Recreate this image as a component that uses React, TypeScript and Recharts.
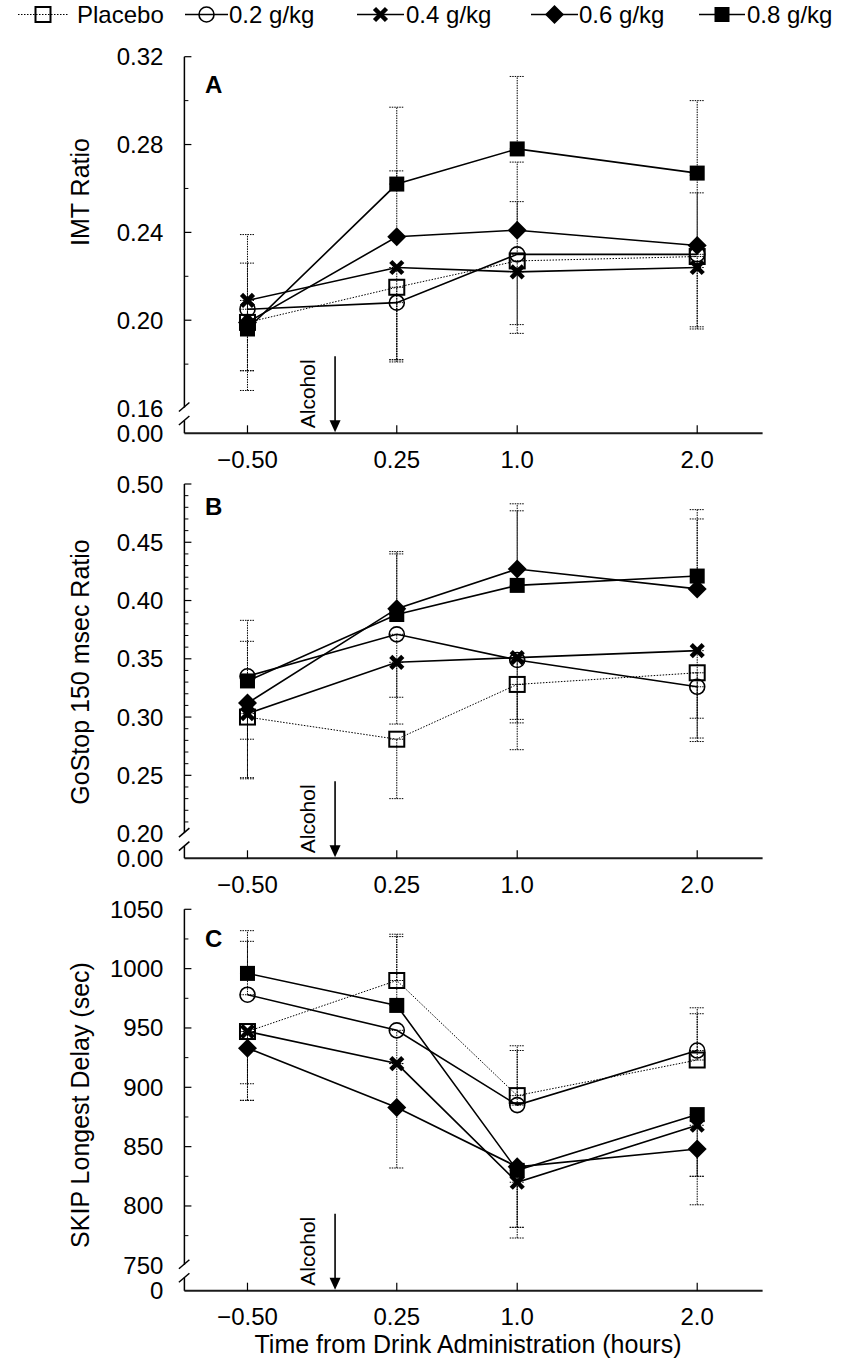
import React from 'react';
import { LineChart, Line, XAxis, YAxis, ErrorBar, ReferenceLine, Legend, Customized } from 'recharts';

const FONT = '"Liberation Sans", Arial, Helvetica, sans-serif';

// ---------------- data ----------------
const times = [-0.5, 0.25, 1.0, 2.0];
const timeTickLabels = ['\u22120.50', '0.25', '1.0', '2.0'];
const alcoholTime = -0.06;
const seriesNames = ['Placebo', '0.2 g/kg', '0.4 g/kg', '0.6 g/kg', '0.8 g/kg'];
const seriesKeys = ['placebo', 'g02', 'g04', 'g06', 'g08'];
const seriesMarkers = ['openSquare', 'openCircle', 'cross', 'diamond', 'filledSquare'];

// Panel A - IMT Ratio
const imtPlacebo = [0.199, 0.215, 0.227, 0.229];
const imt02 = [0.205, 0.208, 0.230, 0.230];
const imt04 = [0.209, 0.224, 0.222, 0.224];
const imt06 = [0.199, 0.238, 0.241, 0.234];
const imt08 = [0.196, 0.262, 0.278, 0.267];
// error bars as [down, up]
const imtPlaceboErr = [[0, 0.040], [0.034, 0], [0.029, 0], [0.033, 0]];
const imt02Err = [[0, 0.021], [0.026, 0], [0, 0.024], [0, 0.028]];
const imt04Err = [[0.032, 0], [0.042, 0], [0.028, 0], [0.027, 0]];
const imt06Err = [[0.022, 0], [0, 0.030], [0, 0.031], [0, 0.032]];
const imt08Err = [[0.028, 0], [0, 0.035], [0, 0.033], [0, 0.033]];
const imtMajorTicks = [0.20, 0.24, 0.28, 0.32];
const imtMinorTicks = [0.18, 0.22, 0.26, 0.30];

// Panel B - GoStop 150 msec Ratio
const gsPlacebo = [0.300, 0.281, 0.328, 0.338];
const gs02 = [0.335, 0.371, 0.349, 0.326];
const gs04 = [0.303, 0.347, 0.351, 0.357];
const gs06 = [0.312, 0.393, 0.427, 0.410];
const gs08 = [0.331, 0.388, 0.413, 0.421];
const gsPlaceboErr = [[0.019, 0], [0.051, 0], [0.056, 0], [0.059, 0]];
const gs02Err = [[0, 0.048], [0.077, 0], [0.054, 0], [0.044, 0]];
const gs04Err = [[0.056, 0], [0.030, 0], [0.053, 0], [0.058, 0]];
const gs06Err = [[0.064, 0], [0, 0.049], [0, 0.056], [0, 0.060]];
const gs08Err = [[0, 0.034], [0, 0.052], [0, 0.064], [0, 0.057]];
const gsMajorTicks = [0.25, 0.30, 0.35, 0.40, 0.45, 0.50];
const gsMinorTicks = [0.21, 0.22, 0.23, 0.24, 0.26, 0.27, 0.28, 0.29, 0.31, 0.32, 0.33, 0.34,
  0.36, 0.37, 0.38, 0.39, 0.41, 0.42, 0.43, 0.44, 0.46, 0.47, 0.48, 0.49];

// Panel C - SKIP Longest Delay (sec)
const skPlacebo = [947, 990, 893, 923];
const sk02 = [978, 948, 885, 931];
const sk04 = [947, 920, 820, 868];
const sk06 = [933, 883, 833, 848];
const sk08 = [996, 969, 830, 877];
const skPlaceboErr = [[44, 0], [0, 39], [0, 42], [0, 39]];
const sk02Err = [[0, 45], [28, 0], [0, 46], [0, 36]];
const sk04Err = [[58, 0], [37, 0], [47, 0], [67, 0]];
const sk06Err = [[44, 0], [51, 0], [51, 0], [23, 0]];
const sk08Err = [[0, 36], [0, 58], [48, 0], [52, 0]];
const skMajorTicks = [800, 850, 900, 950, 1000, 1050];
const skMinorTicks = [775, 825, 875, 925, 975, 1025];

// ---------------- x scale (uneven spacing of the time points) ----------------
const xKnotTimes = [-0.8, -0.5, 0.25, 1.0, 2.0, 2.4];
const xKnotFractions = [0, 0.1091, 0.3673, 0.5756, 0.8869, 1];

function piecewiseScale(knotsT: number[], knotsF: number[], dom?: number[], rng?: number[]): any {
  let domain = dom ? dom.slice() : [knotsT[0], knotsT[knotsT.length - 1]];
  let range = rng ? rng.slice() : [0, 1];
  const frac = (v: number) => {
    const n = knotsT.length;
    let i = 0;
    while (i < n - 2 && v > knotsT[i + 1]) i++;
    return knotsF[i] + ((v - knotsT[i]) / (knotsT[i + 1] - knotsT[i])) * (knotsF[i + 1] - knotsF[i]);
  };
  const scale: any = (v: any) => range[0] + frac(Number(v)) * (range[1] - range[0]);
  scale.domain = (d?: any) => {
    if (d === undefined) return domain.slice();
    domain = Array.from(d).map(Number);
    return scale;
  };
  scale.range = (r?: any) => {
    if (r === undefined) return range.slice();
    range = Array.from(r).map(Number);
    return scale;
  };
  scale.copy = () => piecewiseScale(knotsT, knotsF, domain, range);
  scale.ticks = () => knotsT.slice(1, -1);
  scale.tickFormat = () => (v: any) => String(v);
  scale.nice = () => scale;
  scale.clamp = () => scale;
  scale.invert = (px: number) => {
    const f = (px - range[0]) / (range[1] - range[0]);
    let i = 0;
    while (i < knotsF.length - 2 && f > knotsF[i + 1]) i++;
    return knotsT[i] + ((f - knotsF[i]) / (knotsF[i + 1] - knotsF[i])) * (knotsT[i + 1] - knotsT[i]);
  };
  return scale;
}
const xScale = piecewiseScale(xKnotTimes, xKnotFractions);

// ---------------- helpers ----------------
function buildRows(values: number[][], errs: number[][][]) {
  return times.map((t, i) => {
    const row: Record<string, any> = { t };
    seriesKeys.forEach((k, s) => {
      row[k] = values[s][i];
      row[k + 'Err'] = errs[s][i];
    });
    return row;
  });
}

function Marker({ kind, cx, cy }: { kind: string; cx: number; cy: number }) {
  if (cx == null || cy == null || isNaN(cx) || isNaN(cy)) return null;
  switch (kind) {
    case 'openSquare':
      return <rect x={cx - 7.5} y={cy - 7.5} width={15} height={15} fill="none" stroke="#000" strokeWidth={2} />;
    case 'openCircle':
      return <circle cx={cx} cy={cy} r={7.5} fill="none" stroke="#000" strokeWidth={1.6} />;
    case 'cross':
      return (
        <g stroke="#000" strokeWidth={4.5}>
          <line x1={cx - 6} y1={cy - 6} x2={cx + 6} y2={cy + 6} />
          <line x1={cx - 6} y1={cy + 6} x2={cx + 6} y2={cy - 6} />
        </g>
      );
    case 'diamond':
      return <polygon points={`${cx},${cy - 9.5} ${cx + 9.5},${cy} ${cx},${cy + 9.5} ${cx - 9.5},${cy}`} fill="#000" />;
    case 'filledSquare':
      return <rect x={cx - 7.5} y={cy - 7.5} width={15} height={15} fill="#000" />;
    default:
      return null;
  }
}

const near = (a: number, b: number) => Math.abs(a - b) < 1e-6 * Math.max(1, Math.abs(b));

function makeYTick(cfg: any) {
  return (props: any) => {
    const { x, y, payload } = props;
    const v = Number(payload.value);
    const txt = { fontFamily: FONT, fontSize: 24, fill: '#000', textAnchor: 'end' as const };
    if (near(v, cfg.axisMin)) {
      return <text x={x - 21} y={y + 8.5} {...txt}>{cfg.bottomLabel}</text>;
    }
    if (near(v, cfg.breakTick)) {
      return (
        <g>
          <rect x={x - 3} y={y - 0.5} width={6} height={13} fill="#fff" />
          <line x1={x - 5.5} y1={y + 3.5} x2={x + 5} y2={y - 5.5} stroke="#000" strokeWidth={1.5} />
          <line x1={x - 5.5} y1={y + 17} x2={x + 5} y2={y + 8} stroke="#000" strokeWidth={1.5} />
          <text x={x - 21} y={y + 8.5} {...txt}>{v.toFixed(cfg.decimals)}</text>
        </g>
      );
    }
    if (cfg.majors.some((m: number) => near(v, m))) {
      return (
        <g>
          <line x1={x} y1={y} x2={x + 7} y2={y} stroke="#000" strokeWidth={1.2} />
          <text x={x - 21} y={y + 8.5} {...txt}>{v.toFixed(cfg.decimals)}</text>
        </g>
      );
    }
    return <line x1={x} y1={y} x2={x + 4} y2={y} stroke="#000" strokeWidth={1} />;
  };
}

const XTick = (props: any) => {
  const { x, y, payload } = props;
  const idx = times.findIndex((t) => near(t, Number(payload.value)));
  return (
    <g>
      <line x1={x} y1={y} x2={x} y2={y - 8} stroke="#000" strokeWidth={1.2} />
      <text x={x} y={y + 34.5} textAnchor="middle" fontFamily={FONT} fontSize={24} fill="#000">
        {idx >= 0 ? timeTickLabels[idx] : ''}
      </text>
    </g>
  );
};

const AlcoholArrow = (p: any) => {
  const x = p.x1;
  const yb = Math.max(p.y1, p.y2);
  return (
    <g>
      <line x1={x} y1={yb - 77} x2={x} y2={yb - 12} stroke="#000" strokeWidth={1.6} />
      <polygon points={`${x - 5.5},${yb - 13} ${x + 5.5},${yb - 13} ${x},${yb - 1}`} fill="#000" />
      <text
        transform={`translate(${x - 20.5},${yb - 39.5}) rotate(-90)`}
        textAnchor="middle"
        fontFamily={FONT}
        fontSize={21}
        fill="#000"
      >
        Alcohol
      </text>
    </g>
  );
};

// legend layout: sample line start/end and text start
const legendSlots = [
  { x0: 18, x1: 68, tx: 77 },
  { x0: 185, x1: 228, tx: 229 },
  { x0: 357, x1: 404, tx: 406 },
  { x0: 531, x1: 578, tx: 579 },
  { x0: 699, x1: 745, tx: 747 },
];

const renderLegend = (props: any) => {
  const payload = props.payload || [];
  return (
    <svg width={851} height={34} style={{ display: 'block' }}>
      {payload.map((entry: any) => {
        const i = seriesNames.indexOf(entry.value);
        if (i < 0) return null;
        const s = legendSlots[i];
        const cy = 14.5;
        return (
          <g key={entry.value}>
            <line
              x1={s.x0}
              y1={cy}
              x2={s.x1}
              y2={cy}
              stroke="#000"
              strokeWidth={i === 0 ? 1 : 1.6}
              strokeDasharray={i === 0 ? '1.5 1.5' : undefined}
            />
            <Marker kind={seriesMarkers[i]} cx={(s.x0 + s.x1) / 2} cy={cy} />
            <text x={s.tx} y={23} fontFamily={FONT} fontSize={24} fill="#000">
              {entry.value}
            </text>
          </g>
        );
      })}
    </svg>
  );
};

// ---------------- panels ----------------
const panels = [
  {
    id: 'A',
    top: 0,
    height: 480,
    marginTop: 56.7,
    marginBottom: 6.7,
    xAxisHeight: 40,
    values: [imtPlacebo, imt02, imt04, imt06, imt08],
    errors: [imtPlaceboErr, imt02Err, imt04Err, imt06Err, imt08Err],
    axisMin: 0.1485,
    axisMax: 0.32,
    breakTick: 0.16,
    majors: imtMajorTicks,
    minors: imtMinorTicks,
    decimals: 2,
    bottomLabel: '0.00',
    title: 'IMT Ratio',
    titleY: 192,
    letterY: 93.3,
    legend: true,
    xTitle: false,
  },
  {
    id: 'B',
    top: 470,
    height: 435,
    marginTop: 14,
    marginBottom: 6.7,
    xAxisHeight: 40,
    values: [gsPlacebo, gs02, gs04, gs06, gs08],
    errors: [gsPlaceboErr, gs02Err, gs04Err, gs06Err, gs08Err],
    axisMin: 0.1788,
    axisMax: 0.5,
    breakTick: 0.2,
    majors: gsMajorTicks,
    minors: gsMinorTicks,
    decimals: 2,
    bottomLabel: '0.00',
    title: 'GoStop 150 msec Ratio',
    titleY: 202,
    letterY: 45,
    legend: false,
    xTitle: false,
  },
  {
    id: 'C',
    top: 895,
    height: 471,
    marginTop: 14.3,
    marginBottom: 5.3,
    xAxisHeight: 70,
    values: [skPlacebo, sk02, sk04, sk06, sk08],
    errors: [skPlaceboErr, sk02Err, sk04Err, sk06Err, sk08Err],
    axisMin: 728.6,
    axisMax: 1050,
    breakTick: 750,
    majors: skMajorTicks,
    minors: skMinorTicks,
    decimals: 0,
    bottomLabel: '0',
    title: 'SKIP Longest Delay (sec)',
    titleY: 210,
    letterY: 51.7,
    legend: false,
    xTitle: true,
  },
];

function PanelChart({ cfg }: { cfg: any }) {
  const rows = buildRows(cfg.values, cfg.errors);
  const yTicks = [cfg.axisMin, cfg.breakTick, ...cfg.minors, ...cfg.majors].sort((a, b) => a - b);
  const PanelText = () => (
    <g>
      <text x={205} y={cfg.letterY} fontFamily={FONT} fontSize={24} fontWeight="bold" fill="#000">
        {cfg.id}
      </text>
      <text
        transform={`translate(89,${cfg.titleY}) rotate(-90)`}
        textAnchor="middle"
        fontFamily={FONT}
        fontSize={25}
        fill="#000"
      >
        {cfg.title}
      </text>
      {cfg.xTitle ? (
        <text x={468} y={458} textAnchor="middle" fontFamily={FONT} fontSize={25} fill="#000">
          Time from Drink Administration (hours)
        </text>
      ) : null}
    </g>
  );
  return (
    <div style={{ position: 'absolute', left: 0, top: cfg.top, width: 851, height: cfg.height }}>
      <LineChart
        width={851}
        height={cfg.height}
        data={rows}
        margin={{ top: cfg.marginTop, right: 88.4, bottom: cfg.marginBottom, left: 0 }}
      >
        <XAxis
          dataKey="t"
          type="number"
          scale={xScale}
          domain={[xKnotTimes[0], xKnotTimes[xKnotTimes.length - 1]]}
          ticks={times}
          interval={0}
          allowDataOverflow
          height={cfg.xAxisHeight}
          tickSize={0}
          tickMargin={0}
          tickLine={false}
          axisLine={{ stroke: '#1a1a1a', strokeWidth: 2 }}
          tick={XTick}
        />
        <YAxis
          type="number"
          domain={[cfg.axisMin, cfg.axisMax]}
          ticks={yTicks}
          interval={0}
          allowDataOverflow
          width={184.4}
          tickSize={0}
          tickMargin={0}
          tickLine={false}
          axisLine={{ stroke: '#000', strokeWidth: 1.5 }}
          tick={makeYTick(cfg)}
        />
        <ReferenceLine x={alcoholTime} shape={AlcoholArrow} ifOverflow="visible" />
        {seriesKeys.map((k, s) => (
          <Line
            key={k}
            dataKey={k}
            name={seriesNames[s]}
            type="linear"
            stroke="#000"
            strokeWidth={s === 0 ? 1 : 1.6}
            strokeDasharray={s === 0 ? '1.5 1.5' : undefined}
            isAnimationActive={false}
            activeDot={false}
            dot={(p: any) => <Marker key={`${k}-${p.index}`} kind={seriesMarkers[s]} cx={p.cx} cy={p.cy} />}
          >
            <ErrorBar
              dataKey={k + 'Err'}
              direction="y"
              width={7.5}
              stroke="#000"
              strokeWidth={1}
              strokeDasharray="1.5 1"
              isAnimationActive={false}
            />
          </Line>
        ))}
        {cfg.legend ? (
          <Legend
            layout="horizontal"
            verticalAlign="middle"
            align="center"
            content={renderLegend}
            wrapperStyle={{ position: 'absolute', top: 0, left: 0, width: 851, height: 34 }}
          />
        ) : null}
        <Customized component={<PanelText />} />
      </LineChart>
    </div>
  );
}

export default function App() {
  return (
    <div
      style={{
        position: 'absolute',
        left: 0,
        top: 0,
        width: 851,
        height: 1366,
        background: '#fff',
        fontFamily: FONT,
      }}
    >
      {panels.map((cfg) => (
        <PanelChart key={cfg.id} cfg={cfg} />
      ))}
    </div>
  );
}
